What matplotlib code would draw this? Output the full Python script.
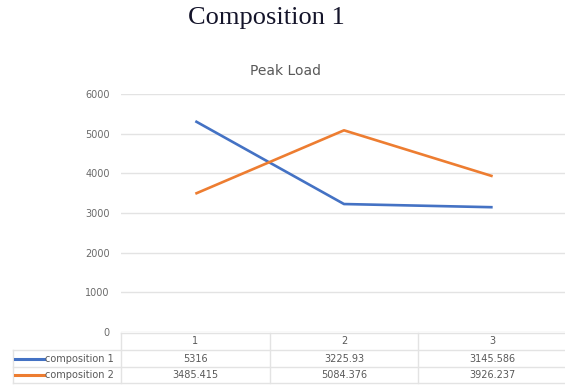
import matplotlib.pyplot as plt
from matplotlib.lines import Line2D

# peak load per sample, two compositions
categories = ["1", "2", "3"]
series_names = ["composition 1", "composition 2"]
comp1 = [5316, 3225.93, 3145.586]
comp2 = [3485.415, 5084.376, 3926.237]
yticks = [0, 1000, 2000, 3000, 4000, 5000, 6000]

blue = "#4472C4"
orange = "#ED7D31"
grid_col = "#E3E3E3"
text_col = "#595959"

W, H = 565, 385
fig = plt.figure(figsize=(W / 100, H / 100), dpi=100)
plt.rcParams['font.family'] = ['DejaVu Sans']


def box(x0, y0, x1, y1):
    # pixel box (top-left origin) -> figure fraction rect
    return [x0 / W, 1 - y1 / H, (x1 - x0) / W, (y1 - y0) / H]


fig.text(266 / W, 1 - 18 / H, "Composition 1", ha="center", va="center",
         family="Liberation Serif", fontsize=19, color="#14142a")
fig.text(286 / W, 1 - 71 / H, "Peak Load", ha="center", va="center",
         fontsize=10, color=text_col)

ax = fig.add_axes(box(121, 94, 567, 332))
x = list(range(1, len(categories) + 1))
ax.plot(x, comp1, color=blue, lw=1.9, solid_capstyle="butt")
ax.plot(x, comp2, color=orange, lw=1.9, solid_capstyle="butt")
ax.set_xlim(0.5, 3.5)
ax.set_ylim(0, 6000)
ax.set_yticks(yticks)
ax.set_yticklabels([str(t) for t in yticks])
ax.set_xticks([])
ax.grid(axis="y", color=grid_col, lw=1)
ax.set_axisbelow(True)
for s in ax.spines.values():
    s.set_visible(False)
ax.tick_params(axis="y", length=0, pad=8, labelsize=7, labelcolor="#6a6a6a")

# data table under the plot, drawn in pixel coordinates
tab = fig.add_axes(box(0, 332, 567, 385))
tab.set_xlim(0, 567)
tab.set_ylim(385, 332)
tab.axis("off")

col_edges = [121, 270, 418, 567]
row_edges = [333, 350, 367, 383]
line_kw = dict(color=grid_col, lw=1)
tab.plot([121, 567], [row_edges[0]] * 2, **line_kw)
for yy in row_edges[1:]:
    tab.plot([13, 567], [yy, yy], **line_kw)
for xx in col_edges[:-1]:
    tab.plot([xx, xx], [row_edges[0], row_edges[-1]], **line_kw)
tab.plot([13, 13], [row_edges[1], row_edges[-1]], **line_kw)

def fmt(v):
    return ("%f" % v).rstrip("0").rstrip(".")

fs = 7
for j, c in enumerate(categories):
    cx = (col_edges[j] + col_edges[j + 1]) / 2
    tab.text(cx, (row_edges[0] + row_edges[1]) / 2, c, ha="center",
             va="center", fontsize=fs, color=text_col)

for i, (name, vals, col) in enumerate(zip(series_names, [comp1, comp2],
                                         [blue, orange])):
    cy = (row_edges[i + 1] + row_edges[i + 2]) / 2
    tab.add_line(Line2D([15, 44], [cy, cy], color=col, lw=2.2))
    tab.text(45, cy, name, ha="left", va="center", fontsize=fs,
             color=text_col)
    for j, v in enumerate(vals):
        cx = (col_edges[j] + col_edges[j + 1]) / 2
        tab.text(cx, cy, fmt(v), ha="center", va="center", fontsize=fs,
                 color=text_col)

fig.savefig("out.png", dpi=100)
